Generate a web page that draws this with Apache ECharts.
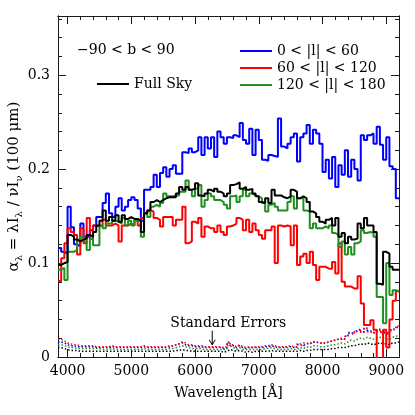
<!DOCTYPE html>
<html><head><meta charset="utf-8">
<script src="https://cdn.jsdelivr.net/npm/echarts@6/dist/echarts.min.js"></script>
<style>html,body{margin:0;padding:0;background:#fff}#c{width:415px;height:415px}</style>
</head><body><div id="c"></div>
<script>
// ---- data (50 Å bins starting at 3850 Å) ----
const binStart = 3850, binWidth = 50;
const seriesNames = ['Full Sky', '0 < |l| < 60', '60 < |l| < 120', '120 < |l| < 180'];
const fullSky = [0.098,0.100,0.101,0.130,0.128,0.125,0.123,0.125,0.126,0.130,
0.128,0.133,0.140,0.145,0.156,0.145,0.149,0.145,0.151,0.144,
0.151,0.147,0.149,0.147,0.147,0.145,0.133,0.153,0.156,0.165,
0.167,0.165,0.167,0.169,0.170,0.170,0.170,0.174,0.181,0.178,
0.181,0.178,0.179,0.185,0.172,0.171,0.174,0.178,0.176,0.179,
0.176,0.174,0.171,0.174,0.183,0.184,0.186,0.179,0.181,0.178,
0.179,0.174,0.171,0.165,0.164,0.169,0.164,0.178,0.172,0.172,
0.170,0.169,0.171,0.178,0.176,0.169,0.171,0.169,0.165,0.155,
0.153,0.149,0.144,0.142,0.146,0.148,0.140,0.148,0.128,0.132,
0.121,0.128,0.125,0.126,0.142,0.137,0.148,0.140,0.140,0.133,
0.078,0.077,0.112,0.110,0.096,0.093,0.093];
const lon0_60 = [0.116,0.112,0.110,0.160,0.138,0.120,0.118,0.142,0.128,0.128,
0.135,0.140,0.149,0.149,0.164,0.174,0.153,0.149,0.160,0.169,
0.156,0.160,0.167,0.170,0.167,0.158,0.145,0.178,0.178,0.181,
0.194,0.181,0.196,0.202,0.192,0.200,0.204,0.195,0.195,0.218,
0.217,0.222,0.218,0.220,0.234,0.215,0.234,0.222,0.234,0.213,
0.240,0.234,0.227,0.234,0.233,0.236,0.234,0.249,0.231,0.227,
0.243,0.215,0.242,0.231,0.210,0.209,0.215,0.214,0.213,0.254,
0.224,0.222,0.227,0.234,0.238,0.208,0.234,0.238,0.247,0.227,
0.242,0.238,0.227,0.197,0.210,0.190,0.213,0.181,0.204,0.194,
0.220,0.192,0.210,0.200,0.188,0.236,0.231,0.236,0.238,0.227,
0.245,0.226,0.210,0.234,0.203,0.200,0.169];
const lon60_120 = [0.081,0.105,0.121,0.137,0.133,0.130,0.109,0.137,0.121,0.148,
0.126,0.140,0.139,0.140,0.146,0.140,0.140,0.142,0.140,0.123,
0.140,0.140,0.142,0.140,0.146,0.140,0.148,0.153,0.156,0.155,
0.148,0.146,0.139,0.149,0.149,0.149,0.140,0.146,0.146,0.160,
0.121,0.123,0.144,0.142,0.148,0.128,0.139,0.137,0.137,0.133,
0.140,0.133,0.130,0.139,0.140,0.142,0.148,0.146,0.135,0.146,
0.133,0.142,0.135,0.130,0.126,0.135,0.135,0.139,0.100,0.140,
0.139,0.140,0.139,0.119,0.140,0.098,0.107,0.110,0.100,0.112,
0.098,0.082,0.096,0.096,0.094,0.094,0.101,0.089,0.121,0.080,
0.075,0.075,0.073,0.073,0.086,0.057,0.034,0.034,0.039,0.029,
-0.010,-0.010,0.029,0.010,0.040,0.060,0.070];
const lon120_180 = [0.093,0.095,0.082,0.112,0.112,0.114,0.125,0.128,0.123,0.114,
0.126,0.119,0.119,0.140,0.137,0.142,0.142,0.145,0.144,0.142,
0.148,0.140,0.145,0.140,0.145,0.145,0.128,0.153,0.149,0.160,
0.162,0.160,0.164,0.174,0.171,0.171,0.172,0.172,0.176,0.176,
0.188,0.178,0.171,0.179,0.183,0.160,0.167,0.174,0.171,0.167,
0.167,0.165,0.162,0.158,0.171,0.172,0.165,0.171,0.178,0.171,
0.174,0.172,0.171,0.169,0.164,0.155,0.162,0.164,0.160,0.156,
0.156,0.156,0.165,0.171,0.158,0.169,0.169,0.156,0.155,0.137,
0.142,0.137,0.137,0.139,0.137,0.140,0.132,0.130,0.117,0.123,
0.109,0.117,0.109,0.121,0.123,0.135,0.132,0.133,0.132,0.128,
0.064,0.064,0.036,0.100,0.066,0.071,0.070];
// standard errors
const errFullSky = [0.010,0.009,0.008,0.007,0.007,0.007,0.006,0.006,0.006,0.006,
0.006,0.006,0.006,0.006,0.006,0.006,0.006,0.006,0.006,0.006,
0.006,0.006,0.006,0.006,0.006,0.006,0.006,0.006,0.006,0.006,
0.006,0.006,0.006,0.006,0.006,0.006,0.007,0.007,0.008,0.007,
0.007,0.006,0.006,0.006,0.006,0.006,0.006,0.006,0.006,0.006,
0.006,0.005,0.006,0.008,0.007,0.006,0.007,0.006,0.005,0.006,
0.005,0.006,0.006,0.006,0.006,0.006,0.007,0.006,0.006,0.006,
0.006,0.006,0.006,0.006,0.006,0.007,0.006,0.007,0.007,0.008,
0.008,0.008,0.008,0.008,0.008,0.009,0.009,0.010,0.010,0.010,
0.011,0.012,0.012,0.013,0.014,0.013,0.015,0.014,0.013,0.014,
0.015,0.014,0.014,0.013,0.015,0.015,0.016];
const err0_60 = [0.016,0.015,0.013,0.012,0.012,0.011,0.011,0.011,0.011,0.011,
0.011,0.010,0.010,0.010,0.010,0.010,0.011,0.010,0.010,0.010,
0.010,0.010,0.010,0.010,0.010,0.010,0.011,0.010,0.010,0.010,
0.010,0.010,0.010,0.010,0.011,0.012,0.013,0.014,0.015,0.013,
0.012,0.012,0.011,0.011,0.011,0.010,0.010,0.010,0.010,0.010,
0.010,0.009,0.010,0.015,0.012,0.010,0.012,0.010,0.009,0.010,
0.010,0.010,0.010,0.010,0.011,0.011,0.012,0.011,0.010,0.010,
0.010,0.010,0.011,0.010,0.010,0.013,0.012,0.014,0.014,0.016,
0.016,0.015,0.015,0.015,0.016,0.017,0.018,0.019,0.019,0.019,
0.022,0.026,0.025,0.028,0.030,0.027,0.031,0.028,0.026,0.028,
0.030,0.027,0.026,0.025,0.029,0.031,0.032];
const err60_120 = [0.019,0.017,0.015,0.014,0.013,0.013,0.012,0.012,0.012,0.012,
0.012,0.011,0.011,0.011,0.011,0.011,0.012,0.011,0.011,0.011,
0.011,0.011,0.011,0.011,0.011,0.011,0.012,0.011,0.011,0.011,
0.011,0.011,0.011,0.011,0.012,0.012,0.013,0.014,0.016,0.015,
0.013,0.013,0.012,0.012,0.012,0.011,0.011,0.011,0.011,0.011,
0.011,0.010,0.011,0.016,0.013,0.011,0.013,0.011,0.010,0.011,
0.010,0.011,0.011,0.011,0.012,0.012,0.013,0.012,0.011,0.011,
0.011,0.011,0.012,0.011,0.011,0.014,0.012,0.015,0.014,0.016,
0.016,0.015,0.015,0.015,0.016,0.017,0.018,0.019,0.020,0.019,
0.022,0.025,0.024,0.027,0.029,0.026,0.030,0.027,0.025,0.027,
0.029,0.026,0.025,0.024,0.028,0.030,0.033];
const err120_180 = [0.013,0.012,0.011,0.010,0.010,0.009,0.009,0.009,0.009,0.009,
0.009,0.009,0.009,0.008,0.008,0.008,0.009,0.008,0.008,0.008,
0.008,0.008,0.008,0.008,0.008,0.008,0.009,0.008,0.008,0.008,
0.008,0.008,0.008,0.008,0.009,0.009,0.010,0.011,0.012,0.011,
0.010,0.009,0.009,0.009,0.009,0.008,0.008,0.008,0.008,0.008,
0.008,0.008,0.008,0.012,0.010,0.008,0.010,0.008,0.008,0.008,
0.008,0.008,0.008,0.008,0.009,0.009,0.010,0.009,0.008,0.008,
0.008,0.008,0.009,0.008,0.008,0.010,0.009,0.011,0.010,0.012,
0.012,0.011,0.011,0.011,0.012,0.013,0.013,0.014,0.015,0.014,
0.016,0.018,0.017,0.019,0.020,0.019,0.021,0.020,0.019,0.020,
0.021,0.020,0.019,0.019,0.021,0.022,0.023];
// axis ticks
const xRange = [3850, 9200];
const xTickLabels = [4000, 5000, 6000, 7000, 8000, 9000];
const xMinorTicks = [4200,4400,4600,4800,5200,5400,5600,5800,6200,6400,6600,6800,7200,7400,7600,7800,8200,8400,8600,8800,9000];
const yRange = [0, 0.363];
const yTickLabels = [0, 0.1, 0.2, 0.3];
const yMinorTicks = [0.02,0.04,0.06,0.08,0.12,0.14,0.16,0.18,0.22,0.24,0.26,0.28,0.32,0.34,0.36];
const arrowAt = 6270;   // Å, "Standard Errors" pointer

const FONT = 'DejaVu Serif';
const colors = {full: '#000000', a: '#0000ff', b: '#ff0000', c: '#1f8f1f'};

function steps(vals) {
  const pts = vals.map((v, i) => [binStart + binWidth * i, v]);
  pts.push([binStart + binWidth * vals.length, vals[vals.length - 1]]);
  return pts;
}

const chart = echarts.init(document.getElementById('c'), null, {renderer: 'canvas'});
const axisColor = '#1a1a1a';

function xAx(pos, major, labels) {
  return {
    type: 'value', min: xRange[0], max: xRange[1], position: pos, gridIndex: 0,
    axisLine: {show: true, onZero: false, lineStyle: {color: axisColor, width: 1}},
    axisTick: {show: true, inside: true, length: major ? 8 : 4, customValues: major ? xTickLabels : xMinorTicks,
               lineStyle: {color: axisColor, width: 1}},
    axisLabel: {show: labels, customValues: xTickLabels, margin: 7, color: '#000', fontFamily: FONT, fontSize: 14,
                formatter: v => String(Math.round(v))},
    splitLine: {show: false},
    name: labels ? 'Wavelength [Å]' : '', nameLocation: 'middle', nameGap: 29,
    nameTextStyle: {color: '#000', fontFamily: FONT, fontSize: 14}
  };
}
function yAx(pos, major, labels) {
  return {
    type: 'value', min: yRange[0], max: yRange[1], position: pos, gridIndex: 0,
    axisLine: {show: true, onZero: false, lineStyle: {color: axisColor, width: 1}},
    axisTick: {show: true, inside: true, length: major ? 8 : 4, customValues: major ? yTickLabels : yMinorTicks,
               lineStyle: {color: axisColor, width: 1}},
    axisLabel: {show: labels, customValues: yTickLabels, margin: 8, color: '#000', fontFamily: FONT, fontSize: 14,
                formatter: v => v === 0 ? '0' : v.toFixed(1)},
    splitLine: {show: false},
    name: labels ? '{a|α}{s|λ}{a| = λI}{s|λ}{a| / νI}{s|ν}{a| (100 μm)}' : '',
    nameLocation: 'middle', nameRotate: 90, nameGap: 34, nameMoveOverlap: false,
    nameTextStyle: {color: '#000', fontFamily: FONT, fontSize: 15,
      rich: {a: {fontFamily: FONT, fontSize: 15, lineHeight: 19, color: '#000'},
             s: {fontFamily: FONT, fontSize: 10, lineHeight: 10, verticalAlign: 'bottom', color: '#000'}}}
  };
}

function mainSeries(name, vals, color) {
  return {name, type: 'line', step: 'end', data: steps(vals), showSymbol: false, symbol: 'none',
          xAxisIndex: 0, yAxisIndex: 0, clip: true,
          lineStyle: {color, width: 2}, itemStyle: {color}, emphasis: {disabled: true}, z: 3};
}
function errSeries(name, vals, color) {
  return {name, type: 'line', step: 'end', data: steps(vals), showSymbol: false, symbol: 'none',
          xAxisIndex: 0, yAxisIndex: 0, clip: true,
          lineStyle: {color, width: 1.5, type: [1.5, 2]}, itemStyle: {color}, emphasis: {disabled: true}, z: 2};
}

const option = {
  animation: false,
  backgroundColor: '#fff',
  grid: {left: 58, right: 16, top: 16, bottom: 58, containLabel: false, outerBoundsMode: 'none'},
  xAxis: [xAx('bottom', true, true), xAx('bottom', false, false), xAx('top', true, false), xAx('top', false, false)],
  yAxis: [yAx('left', true, true), yAx('left', false, false), yAx('right', true, false), yAx('right', false, false)],
  legend: [
    {data: [seriesNames[1], seriesNames[2], seriesNames[3]], left: 235, top: 39, orient: 'vertical',
     icon: 'rect', itemWidth: 32, itemHeight: 2, itemGap: 3, selectedMode: false,
     textStyle: {fontFamily: FONT, fontSize: 14, lineHeight: 14, color: '#000'}},
    {data: [seriesNames[0]], left: 92, top: 72, orient: 'vertical',
     icon: 'rect', itemWidth: 32, itemHeight: 2, selectedMode: false,
     textStyle: {fontFamily: FONT, fontSize: 14, lineHeight: 14, color: '#000'}}
  ],
  series: [
    mainSeries(seriesNames[1], lon0_60, colors.a),
    mainSeries(seriesNames[2], lon60_120, colors.b),
    mainSeries(seriesNames[3], lon120_180, colors.c),
    mainSeries(seriesNames[0], fullSky, colors.full),
    errSeries('err ' + seriesNames[0], errFullSky, colors.full),
    errSeries('err ' + seriesNames[3], err120_180, colors.c),
    errSeries('err ' + seriesNames[1], err0_60, colors.a),
    errSeries('err ' + seriesNames[2], err60_120, colors.b)
  ]
};
chart.setOption(option);

// annotations anchored to data coordinates
const pTop = chart.convertToPixel({gridIndex: 0}, [arrowAt, 0.028]);
const pBot = chart.convertToPixel({gridIndex: 0}, [arrowAt, 0.013]);
const pTxt = chart.convertToPixel({gridIndex: 0}, [arrowAt, 0.036]);
chart.setOption({
  graphic: [
    {type: 'text', left: 77, top: 43, style: {text: '−90 < b < 90', fontFamily: FONT, fontSize: 14, fill: '#000'}},
    {type: 'text', x: pTxt[0] + 16, y: pTxt[1], style: {text: 'Standard Errors', fontFamily: FONT, fontSize: 14, fill: '#000',
      align: 'center', verticalAlign: 'middle'}},
    {type: 'line', shape: {x1: pTop[0], y1: pTop[1], x2: pBot[0], y2: pBot[1]}, style: {stroke: '#000', lineWidth: 1}},
    {type: 'polyline', shape: {points: [[pBot[0] - 3, pBot[1] - 5], [pBot[0], pBot[1]], [pBot[0] + 3, pBot[1] - 5]]},
     style: {stroke: '#000', lineWidth: 1, fill: null}}
  ]
});
</script>
</body></html>
